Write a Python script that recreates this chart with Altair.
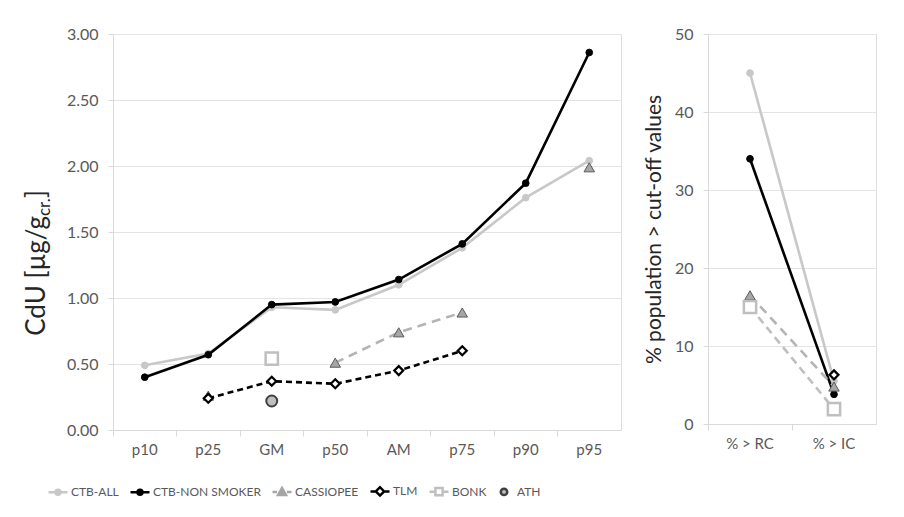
import altair as alt
import pandas as pd

# ---------------- data ----------------
cats_left = ["p10", "p25", "GM", "p50", "AM", "p75", "p90", "p95"]
cats_right = ["% > RC", "% > IC"]
series = ["CTB-ALL", "CTB-NON SMOKER", "CASSIOPEE", "TLM", "BONK", "ATH"]

ctb_all_left = [0.49, 0.58, 0.93, 0.91, 1.10, 1.38, 1.76, 2.04]
ctb_ns_left = [0.40, 0.57, 0.95, 0.97, 1.14, 1.41, 1.87, 2.86]
cass_left = [None, 0.26, None, 0.51, 0.74, 0.89, None, 1.99]
tlm_left = [None, 0.24, 0.37, 0.35, 0.45, 0.60, None, None]
bonk_left = [None, None, 0.54, None, None, None, None, None]
ath_left = [None, None, 0.22, None, None, None, None, None]

ctb_all_right = [45, 5.5]
ctb_ns_right = [34, 3.8]
cass_right = [16.5, 4.8]
tlm_right = [None, 6.3]
bonk_right = [15, 1.9]
ath_right = [None, None]

left_title_parts = ["CdU [µg/g", "cr.", "]"]
right_title = "% population > cut-off values"

# ---------------- styles ----------------
FONT = "Lato"
style = {
    "CTB-ALL": dict(line="#c8c8c8", dash=None, shape="circle", fill="#c8c8c8", stroke="#c8c8c8", size=45, sw=1),
    "CTB-NON SMOKER": dict(line="#000000", dash=None, shape="circle", fill="#000000", stroke="#000000", size=45, sw=1),
    "CASSIOPEE": dict(line="#b4b4b4", dash=[9, 6], shape="triangle-up", fill="#a6a6a6", stroke="#595959", size=110, sw=1),
    "TLM": dict(line="#000000", dash=[6, 4], shape="diamond", fill="#ffffff", stroke="#000000", size=80, sw=2.2),
    "BONK": dict(line="#bfbfbf", dash=[8, 5], shape="square", fill="#ffffff", stroke="#bfbfbf", size=150, sw=2.5),
    "ATH": dict(line=None, dash=None, shape="circle", fill="#bfbfbf", stroke="#404040", size=120, sw=2),
}

def circ(r):
    return f"M{-r},0A{r},{r},0,1,0,{r},0A{r},{r},0,1,0,{-r},0Z"

legend_paths = [
    "M-1,0H-0.32M0.32,0H1" + circ(0.26),
    "M-1,0H-0.32M0.32,0H1" + circ(0.26),
    "M-1,0H-0.52M0.52,0H1M-0.42,0.34L0,-0.4L0.42,0.34Z",
    "M-1,0H-0.52M0.52,0H1M-0.44,0L0,-0.44L0.44,0L0,0.44Z",
    "M-1,0H-0.52M0.52,0H1M-0.38,-0.38H0.38V0.38H-0.38Z",
    circ(0.34),
]
legend_stroke = ["#c8c8c8", "#000000", "#a6a6a6", "#000000", "#bfbfbf", "#404040"]
legend_fill = ["#c8c8c8", "#000000", "#a6a6a6", "#ffffff", "#ffffff", "#bfbfbf"]


def long_df(cats, values):
    rows = []
    for s, vals in values.items():
        seg = 0
        prev = False
        for c, v in zip(cats, vals):
            if v is None:
                if prev:
                    seg += 1
                prev = False
                continue
            rows.append(dict(series=s, cat=c, value=v, seg=f"{s}-{seg}"))
            prev = True
    return pd.DataFrame(rows)


left_df = long_df(cats_left, {
    "CTB-ALL": ctb_all_left, "CTB-NON SMOKER": ctb_ns_left, "CASSIOPEE": cass_left,
    "TLM": tlm_left, "BONK": bonk_left, "ATH": ath_left})
right_df = long_df(cats_right, {
    "CTB-ALL": ctb_all_right, "CTB-NON SMOKER": ctb_ns_right, "CASSIOPEE": cass_right,
    "TLM": tlm_right, "BONK": bonk_right, "ATH": ath_right})


def panel_layers(df, cats, xscale_axis, yenc):
    layers = []
    for s in series:
        st = style[s]
        sub = df[df.series == s]
        if len(sub) == 0:
            continue
        base = alt.Chart(sub).encode(
            x=alt.X("cat:N", sort=cats, scale=alt.Scale(type="band", domain=cats, paddingInner=0, paddingOuter=0),
                    axis=xscale_axis, title=None),
            y=yenc,
        )
        if st["line"] is not None:
            kw = dict(color=st["line"], strokeWidth=2.6, opacity=1)
            if st["dash"]:
                kw["strokeDash"] = st["dash"]
            layers.append(base.mark_line(**kw).encode(detail="seg:N"))
        layers.append(base.mark_point(shape=st["shape"], filled=True, fill=st["fill"], stroke=st["stroke"],
                                      strokeWidth=st["sw"], size=st["size"], opacity=1))
    return layers


xaxis = alt.Axis(bandPosition=0, grid=False, domainColor="#d9d9d9", tickColor="#d9d9d9", tickSize=6,
                 labelAngle=0, labelFont=FONT, labelFontSize=15, labelColor="#595959", labelPadding=6,
                 domainWidth=1.2)

yleft = alt.Y("value:Q", scale=alt.Scale(domain=[0, 3]),
              axis=alt.Axis(values=[0, 0.5, 1, 1.5, 2, 2.5, 3], format=".2f", title=None,
                            gridColor="#e4e4e4", domainColor="#d9d9d9", tickColor="#d9d9d9", tickSize=5,
                            labelFont=FONT, labelFontSize=16, labelColor="#595959", labelPadding=10))
yright = alt.Y("value:Q", scale=alt.Scale(domain=[0, 50]),
               axis=alt.Axis(values=[0, 10, 20, 30, 40, 50], title=right_title, titleFont=FONT,
                             titleFontSize=21, titleFontWeight="normal", titleColor="#262626", titlePadding=10,
                             gridColor="#e4e4e4", domainColor="#d9d9d9", tickColor="#d9d9d9", tickSize=5,
                             labelFont=FONT, labelFontSize=16, labelColor="#595959", labelPadding=10))

left_layers = panel_layers(left_df, cats_left, xaxis, yleft)

# legend layer (no visible marks: values are missing, so only the legend is drawn)
legend_df = pd.DataFrame({"series": series, "cat": [cats_left[0]] * len(series), "value": [None] * len(series)})
leg = alt.Legend(orient="none", legendX=-66, legendY=446, direction="horizontal", title=None,
                 labelFont=FONT, labelFontSize=12, labelColor="#595959", symbolSize=361,
                 symbolStrokeWidth=2.5, columnPadding=6, labelOffset=2, symbolOpacity=1)
legend_layer = alt.Chart(legend_df).mark_point(filled=True, opacity=1).encode(
    x=alt.X("cat:N", sort=cats_left), y=alt.Y("value:Q"),
    shape=alt.Shape("series:N", scale=alt.Scale(domain=series, range=legend_paths), legend=leg),
    stroke=alt.Stroke("series:N", scale=alt.Scale(domain=series, range=legend_stroke), legend=leg),
    fill=alt.Fill("series:N", scale=alt.Scale(domain=series, range=legend_fill), legend=leg),
)

# left axis title with subscript, as text
t_main = alt.Chart(pd.DataFrame({"t": [left_title_parts[0]]})).mark_text(
    angle=270, align="right", baseline="alphabetic", font=FONT, fontSize=26, color="#262626"
).encode(x=alt.value(-68), y=alt.value(182), text="t:N")
t_sub = alt.Chart(pd.DataFrame({"t": [left_title_parts[1]]})).mark_text(
    angle=270, align="left", baseline="alphabetic", font=FONT, fontSize=17, color="#262626"
).encode(x=alt.value(-63), y=alt.value(182), text="t:N")
t_end = alt.Chart(pd.DataFrame({"t": [left_title_parts[2]]})).mark_text(
    angle=270, align="left", baseline="alphabetic", font=FONT, fontSize=26, color="#262626"
).encode(x=alt.value(-68), y=alt.value(164), text="t:N")

left = alt.layer(*left_layers, legend_layer, t_main, t_sub, t_end).properties(width=508, height=396)

right_layers = panel_layers(right_df, cats_right, xaxis, yright)
right = alt.layer(*right_layers).properties(width=168, height=390)

chart = alt.hconcat(left, right, spacing=20).properties(
    padding={"left": 15, "top": 17, "right": 5, "bottom": 5}
).configure_view(stroke=None).configure(font=FONT)

chart.save("out.html", embed_options={"renderer": "svg", "actions": False})
